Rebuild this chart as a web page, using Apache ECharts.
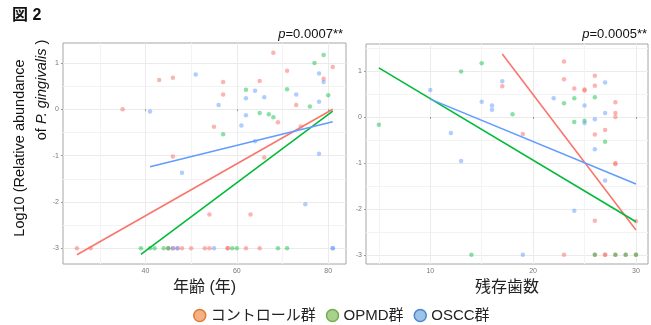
<!DOCTYPE html>
<html>
<head>
<meta charset="utf-8">
<script src="https://cdn.jsdelivr.net/npm/echarts@6/dist/echarts.min.js"></script>
<style>
  html, body { margin: 0; padding: 0; background: #fff; }
  #chart { width: 651px; height: 325px; }
</style>
</head>
<body>
<div id="chart"></div>
<script>
// 左パネル：年齢 vs log10(相対存在量)
const ageCtrl = [35, 43, 46, 46, 57, 57, 55, 68, 65, 71, 73, 69, 74, 66, 79, 81, 54, 63,
  25, 28, 45, 46, 47, 48, 50, 53, 54, 58, 58, 62, 65]
const abCtrlAge = [0.0, 0.63, 0.68, -1.02, 0.59, 0.32, -0.38, 1.22, 0.61, 0.83, 0.09, -0.28, -0.37, -1.04, 0.66, 0.91, -2.27, -2.27,
  -3, -3, -3, -3, -3, -3, -3, -3, -3, -3, -3, -3, -3]
const ageOpmd = [62, 65, 67, 68, 71, 76, 77, 79, 80, 57, 39, 41, 42, 44, 45, 59, 60, 69, 71]
const abOpmdAge = [0.42, -0.08, -0.11, -0.17, 0.43, 0.06, 1.0, 1.17, 0.30, -0.54, -3, -3, -3, -3, -3, -3, -3, -3, -3]
const ageOscc = [41, 51, 56, 62, 64, 62, 61, 66, 73, 78, 79, 78, 78, 64, 48, 75, 46, 47, 55, 81, 81]
const abOsccAge = [-0.05, 0.75, 0.09, 0.24, 0.40, -0.13, -0.35, 0.26, 0.32, 0.77, 0.59, 0.16, -0.96, -0.69, -1.37, -2.05, -3, -3, -3, -3, -3]

// 右パネル：残存歯数 vs log10(相対存在量)
const teethCtrl = [17, 19, 23, 23, 24, 25, 25, 26, 26, 26, 27, 28, 28, 28, 28, 28, 26, 30, 23, 26, 27, 27, 28, 29, 30]
const abCtrlTeeth = [0.67, -0.37, 1.21, 0.82, 0.62, 0.60, 0.58, 0.90, 0.68, -0.38, -0.28, 0.32, 0.09, 0.0, -1.0, -1.03, -2.26, -2.27,
  -3, -3, -3, -3, -3, -3, -3]
const teethOpmd = [5, 13, 15, 18, 23, 24, 24, 25, 26, 27, 14, 26, 28, 29, 30]
const abOpmdTeeth = [-0.17, 0.99, 1.17, 0.06, 0.30, 0.41, -0.11, -0.08, 0.43, -0.54, -3, -3, -3, -3, -3]
const teethOscc = [10, 12, 13, 15, 16, 16, 17, 22, 25, 25, 26, 26, 27, 27, 27, 24, 19]
const abOsccTeeth = [0.59, -0.35, -0.96, 0.33, 0.25, 0.16, 0.78, 0.41, 0.25, -0.13, -0.05, -0.70, 0.75, 0.09, -1.38, -2.04, -3]

// 回帰直線の両端
const fitCtrlAge = [[25, -3.14], [81, 0.0]]
const fitOpmdAge = [[39, -3.13], [81, -0.04]]
const fitOsccAge = [[41, -1.24], [81, -0.27]]
const fitCtrlTeeth = [[17, 1.37], [30, -2.46]]
const fitOpmdTeeth = [[5, 1.07], [30, -2.28]]
const fitOsccTeeth = [[10, 0.39], [30, -1.46]]

// 目盛り
const yTicks = [-3, -2, -1, 0, 1]
const yMinor = [-2.5, -1.5, -0.5, 0.5, 1.5]
const ageTicks = [40, 60, 80]
const ageMinor = [30, 50, 70]
const teethTicks = [10, 20, 30]
const teethMinor = [5, 15, 25]

const groups = ['コントロール群', 'OPMD群', 'OSCC群']
const pAge = '0.0007**'
const pTeeth = '0.0005**'

const FONT = '"Liberation Sans", "Noto Sans CJK JP", sans-serif'
const colors = ['#F8766D', '#00BA38', '#619CFF']
const pointAlpha = [0.55, 0.45, 0.5]

function zip (xs, ys) {
  return xs.map((x, i) => [x, ys[i]])
}

function mainAxis (grid, min, max, ticks) {
  return {
    type: 'value',
    gridIndex: grid,
    min: min,
    max: max,
    axisLine: { show: false },
    axisTick: { show: true, length: 2, lineStyle: { color: '#999' }, customValues: ticks },
    axisLabel: { customValues: ticks, fontSize: 7, color: '#777', fontFamily: FONT, margin: 4 },
    splitLine: { show: true, lineStyle: { color: '#EBEBEB', width: 1 } }
  }
}

// 補助目盛り線だけを描く軸
function minorAxis (grid, min, max, ticks, isY) {
  return {
    type: 'value',
    gridIndex: grid,
    min: min,
    max: max,
    position: isY ? 'left' : 'bottom',
    axisLine: { show: false },
    axisTick: { show: false, customValues: ticks },
    axisLabel: { show: false, customValues: ticks },
    splitLine: { show: true, lineStyle: { color: '#F3F3F3', width: 1 } }
  }
}

const ageRange = [21.95, 83.9]
const teethRange = [3.75, 31.17]
const yRangeL = [-3.34, 1.43]
const yRangeR = [-3.2, 1.59]

const scatterData = [
  [zip(ageCtrl, abCtrlAge), zip(ageOpmd, abOpmdAge), zip(ageOscc, abOsccAge)],
  [zip(teethCtrl, abCtrlTeeth), zip(teethOpmd, abOpmdTeeth), zip(teethOscc, abOsccTeeth)]
]
const fitData = [
  [fitCtrlAge, fitOpmdAge, fitOsccAge],
  [fitCtrlTeeth, fitOpmdTeeth, fitOsccTeeth]
]

const series = []
for (let p = 0; p < 2; p++) {
  groups.forEach((g, i) => {
    series.push({
      name: g,
      type: 'scatter',
      xAxisIndex: p * 2,
      yAxisIndex: p * 2,
      symbolSize: 4.5,
      itemStyle: { color: colors[i], opacity: pointAlpha[i] },
      data: scatterData[p][i]
    })
  })
  groups.forEach((g, i) => {
    series.push({
      name: 'fit-' + p + '-' + i,
      type: 'line',
      xAxisIndex: p * 2,
      yAxisIndex: p * 2,
      showSymbol: false,
      lineStyle: { color: colors[i], width: 1.6 },
      z: 3,
      data: fitData[p][i]
    })
  })
}

const axisName = { fontSize: 16, color: '#222', fontFamily: FONT }

const option = {
  animation: false,
  textStyle: { fontFamily: FONT },
  grid: [
    { left: 63, top: 43, width: 283, height: 221, show: true, borderColor: '#A6A6A6', borderWidth: 1 },
    { left: 366, top: 44, width: 282, height: 220, show: true, borderColor: '#A6A6A6', borderWidth: 1 }
  ],
  xAxis: [
    Object.assign(mainAxis(0, ageRange[0], ageRange[1], ageTicks), {
      name: '年齢 (年)', nameLocation: 'middle', nameGap: 12, nameTextStyle: axisName
    }),
    minorAxis(0, ageRange[0], ageRange[1], ageMinor, false),
    Object.assign(mainAxis(1, teethRange[0], teethRange[1], teethTicks), {
      name: '残存歯数', nameLocation: 'middle', nameGap: 12, nameTextStyle: axisName
    }),
    minorAxis(1, teethRange[0], teethRange[1], teethMinor, false)
  ],
  yAxis: [
    mainAxis(0, yRangeL[0], yRangeL[1], yTicks),
    minorAxis(0, yRangeL[0], yRangeL[1], yMinor, true),
    mainAxis(1, yRangeR[0], yRangeR[1], yTicks),
    minorAxis(1, yRangeR[0], yRangeR[1], yMinor, true)
  ],
  legend: {
    left: 188,
    top: 303,
    icon: 'circle',
    itemWidth: 12,
    itemHeight: 12,
    itemGap: 10,
    selectedMode: false,
    textStyle: { fontSize: 15, color: '#222', fontFamily: FONT },
    data: [
      { name: groups[0], itemStyle: { color: '#F4B183', borderColor: '#E07B39', borderWidth: 1.5, opacity: 1 } },
      { name: groups[1], itemStyle: { color: '#A9D18E', borderColor: '#70AD47', borderWidth: 1.5, opacity: 1 } },
      { name: groups[2], itemStyle: { color: '#9DC3E6', borderColor: '#4A86D0', borderWidth: 1.5, opacity: 1 } }
    ]
  },
  graphic: [
    {
      type: 'text', left: 12, top: 8,
      style: { text: '図 2', fontSize: 16, fontWeight: 'bold', fontFamily: FONT, fill: '#111' }
    },
    {
      type: 'text', x: 343, y: 34,
      style: {
        text: '{i|p}=' + pAge, align: 'right', verticalAlign: 'middle',
        fontSize: 13, fontFamily: FONT, fill: '#111',
        rich: { i: { fontStyle: 'italic', fontSize: 13, fontFamily: FONT, fill: '#111' } }
      }
    },
    {
      type: 'text', x: 647, y: 34,
      style: {
        text: '{i|p}=' + pTeeth, align: 'right', verticalAlign: 'middle',
        fontSize: 13, fontFamily: FONT, fill: '#111',
        rich: { i: { fontStyle: 'italic', fontSize: 13, fontFamily: FONT, fill: '#111' } }
      }
    },
    {
      type: 'text', x: 20, y: 148, rotation: Math.PI / 2,
      style: {
        text: 'Log10 (Relative abundance', align: 'center', verticalAlign: 'middle',
        fontSize: 14.5, fontFamily: FONT, fill: '#111'
      }
    },
    {
      type: 'text', x: 42, y: 90, rotation: Math.PI / 2,
      style: {
        text: 'of {i|P. gingivalis} )', align: 'center', verticalAlign: 'middle',
        fontSize: 14.5, fontFamily: FONT, fill: '#111',
        rich: { i: { fontStyle: 'italic', fontSize: 14.5, fontFamily: FONT, fill: '#111' } }
      }
    }
  ],
  series: series
}

const chart = echarts.init(document.getElementById('chart'))
chart.setOption(option)
</script>
</body>
</html>
